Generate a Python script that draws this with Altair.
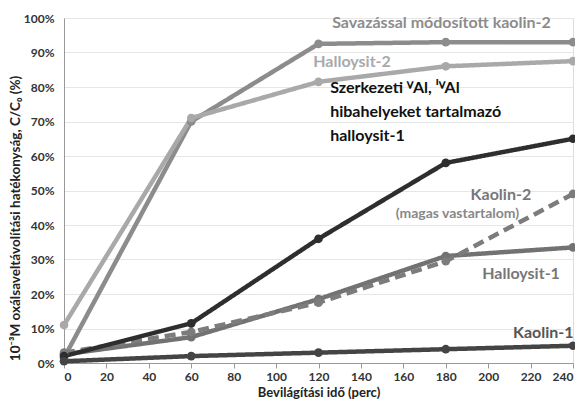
import altair as alt
import pandas as pd

times = [0, 60, 120, 180, 240]
savazassal = [1.5, 70.0, 92.5, 93.0, 93.0]
halloysit2 = [11.0, 71.0, 81.5, 86.0, 87.5]
halloysit1 = [2.5, 7.5, 18.5, 31.0, 33.5]
kaolin2 = [3.0, 9.0, 17.5, 29.5, 49.0]
szerkezeti = [2.0, 11.5, 36.0, 58.0, 65.0]
kaolin1 = [0.5, 2.0, 3.0, 4.0, 5.0]

series_names = ["Savazással", "Halloysit-2", "Halloysit-1", "Kaolin-2", "Szerkezeti", "Kaolin-1"]
series_vals = [savazassal, halloysit2, halloysit1, kaolin2, szerkezeti, kaolin1]
series_colors = ["#8c8c8c", "#a9a9a9", "#727272", "#7c7c7c", "#2e2e2e", "#444444"]
series_dash = [[1, 0], [1, 0], [1, 0], [11, 6], [1, 0], [1, 0]]

rows = []
for i, (n, vals) in enumerate(zip(series_names, series_vals)):
    for t, v in zip(times, vals):
        rows.append({"series": n, "order": i, "t": t, "v": v / 100.0})
df = pd.DataFrame(rows)

y_ticks = [0.0, 0.1, 0.2, 0.3, 0.4, 0.5, 0.6, 0.7, 0.8, 0.9, 1.0]
x_ticks = [0, 20, 40, 60, 80, 100, 120, 140, 160, 180, 200, 220, 240]

label_text = ["Savazással módosított kaolin-2", "Halloysit-2", "Szerkezeti ⱽAl, ᴵⱽAl",
              "hibahelyeket tartalmazó", "halloysit-1", "Kaolin-2", "(magas vastartalom)",
              "Halloysit-1", "Kaolin-1"]
label_x = [178.0, 117.5, 125.5, 125.5, 125.5, 206.0, 185.5, 215.5, 226.0]
label_y = [98.6, 87.2, 79.7, 72.8, 65.8, 48.7, 43.2, 25.8, 8.7]
label_color = ["#8c8c8c", "#a9a9a9", "#111111", "#111111", "#111111", "#777777", "#888888", "#777777", "#555555"]
label_align = ["center", "left", "left", "left", "left", "center", "center", "center", "center"]
label_size = [16, 16, 16, 16, 16, 16, 14, 16, 16]
lab = pd.DataFrame({"text": label_text, "x": label_x, "y": [v / 100 for v in label_y]})

font = "Lato"
xscale = alt.Scale(domain=[0, 240], nice=False)
yscale = alt.Scale(domain=[0, 1], nice=False)

x_axis = alt.Axis(values=x_ticks, title="Bevilágítási idő (perc)",
                  grid=False, ticks=True, tickSize=5, tickColor="#999", domainColor="#999",
                  labelFont=font, labelFontWeight="bold", labelFontSize=12, labelColor="#333",
                  titleFont=font, titleFontWeight="bold", titleFontSize=13, titleColor="#222",
                  labelPadding=3, titlePadding=4, labelOverlap=False)
y_axis = alt.Axis(values=y_ticks, format=".0%",
                  title="10⁻³M oxálsaveltávolítási hatékonyság, C/C₀ (%)",
                  grid=True, gridColor="#e6e6e6", ticks=False, domainColor="#999",
                  labelFont=font, labelFontWeight="bold", labelFontSize=12, labelColor="#333",
                  titleFont=font, titleFontWeight="bold", titleFontSize=13.5, titleColor="#222",
                  titleX=-49, titleY=200, titleAlign="center", titleBaseline="middle",
                  titleAngle=270, labelPadding=10, labelOverlap=False)

lines = alt.Chart(df).mark_line(strokeWidth=4.5, point=alt.OverlayMarkDef(size=75, filled=True, opacity=1)).encode(
    x=alt.X("t:Q", scale=xscale, axis=x_axis),
    y=alt.Y("v:Q", scale=yscale, axis=y_axis),
    color=alt.Color("series:N", scale=alt.Scale(domain=series_names, range=series_colors), legend=None),
    strokeDash=alt.StrokeDash("series:N", scale=alt.Scale(domain=series_names, range=series_dash), legend=None),
    order=alt.Order("order:Q"),
    detail="series:N",
)

texts = []
for i in range(len(label_text)):
    sub = lab.iloc[[i]]
    texts.append(alt.Chart(sub).mark_text(font=font, fontWeight="bold", fontSize=int(label_size[i]),
                                          align=label_align[i], baseline="middle",
                                          color=label_color[i]).encode(
        x=alt.X("x:Q", scale=xscale, axis=x_axis), y=alt.Y("y:Q", scale=yscale, axis=y_axis), text="text:N"))

chart = alt.layer(lines, *texts).properties(
    width=509, height=345,
    autosize=alt.AutoSizeParams(type="none"),
    padding={"left": 56, "top": 10, "right": 2, "bottom": 36},
).configure_view(stroke=None).configure(background="white")

chart.save("out.html", embed_options={"renderer": "svg", "actions": False})
